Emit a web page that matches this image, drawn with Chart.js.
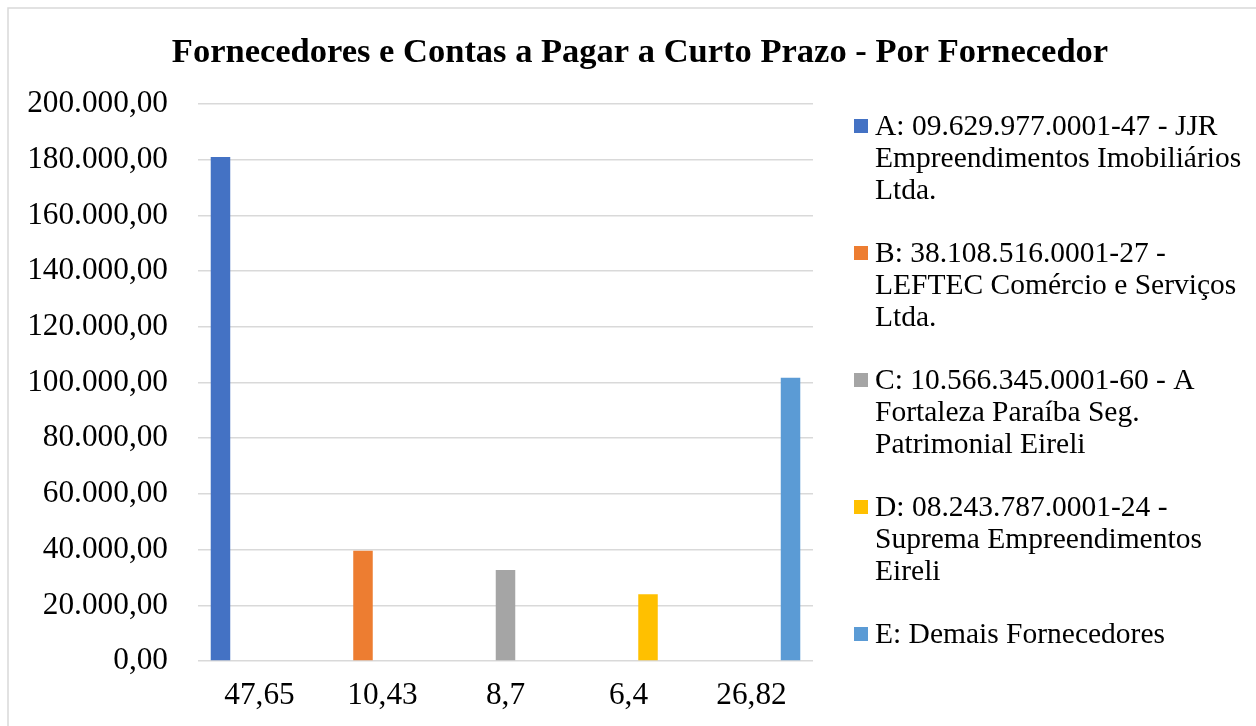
<!DOCTYPE html>
<html>
<head>
<meta charset="utf-8">
<script src="https://cdn.jsdelivr.net/npm/chart.js@4/dist/chart.umd.min.js"></script>
<style>
  html, body { margin: 0; padding: 0; background: #ffffff; }
  #wrap { position: relative; width: 1256px; height: 726px; overflow: hidden; }
</style>
</head>
<body>
<div id="wrap"><canvas id="c" width="1256" height="726"></canvas></div>
<script>
// ---- data ----
const categories = ['47,65', '10,43', '8,7', '6,4', '26,82'];
const seriesNames = [
  ['A: 09.629.977.0001-47 - JJR', 'Empreendimentos Imobiliários', 'Ltda.'],
  ['B: 38.108.516.0001-27 -', 'LEFTEC Comércio e Serviços', 'Ltda.'],
  ['C: 10.566.345.0001-60 - A', 'Fortaleza Paraíba Seg.', 'Patrimonial Eireli'],
  ['D: 08.243.787.0001-24 -', 'Suprema Empreendimentos', 'Eireli'],
  ['E: Demais Fornecedores']
];
const seriesA = [181000, null, null, null, null];
const seriesB = [null, 39600, null, null, null];
const seriesC = [null, null, 32700, null, null];
const seriesD = [null, null, null, 24000, null];
const seriesE = [null, null, null, null, 101700];
const seriesValues = [seriesA, seriesB, seriesC, seriesD, seriesE];
const seriesColors = ['#4472C4', '#ED7D31', '#A5A5A5', '#FFC000', '#5B9BD5'];
const yMin = 0, yMax = 200000, yStep = 20000;
const titleText = 'Fornecedores e Contas a Pagar a Curto Prazo - Por Fornecedor';

const FONT = "'Liberation Serif', 'Times New Roman', serif";

function fmtBR(v) {
  const neg = v < 0;
  v = Math.abs(v);
  const parts = v.toFixed(2).split('.');
  const intPart = parts[0].replace(/\B(?=(\d{3})+(?!\d))/g, '.');
  return (neg ? '-' : '') + intPart + ',' + parts[1];
}

const datasets = seriesValues.map((vals, i) => ({
  label: seriesNames[i].join(' '),
  lines: seriesNames[i],
  data: vals,
  backgroundColor: seriesColors[i],
  borderWidth: 0,
  categoryPercentage: 0.793,
  barPercentage: 1.0
}));

const decorPlugin = {
  id: 'decor',
  beforeDraw(chart) {
    const ctx = chart.ctx;
    ctx.save();
    ctx.strokeStyle = '#d9d9d9';
    ctx.lineWidth = 1.5;
    ctx.strokeRect(8, 8, 1400, 900);
    ctx.restore();
  },
  afterDraw(chart) {
    const ctx = chart.ctx;
    ctx.save();
    // title
    ctx.fillStyle = '#000000';
    ctx.font = 'bold 34.5px ' + FONT;
    ctx.textAlign = 'center';
    ctx.textBaseline = 'alphabetic';
    ctx.fillText(titleText, 640, 62);
    // legend
    ctx.font = '29.5px ' + FONT;
    ctx.textAlign = 'left';
    ctx.textBaseline = 'middle';
    const x0 = 854, sq = 14, tx = 875, y0 = 126, lineH = 32, itemH = 127;
    chart.data.datasets.forEach((ds, i) => {
      const yc = y0 + i * itemH;
      ctx.fillStyle = ds.backgroundColor;
      ctx.fillRect(x0, yc - sq / 2, sq, sq);
      ctx.fillStyle = '#000000';
      ds.lines.forEach((ln, j) => {
        ctx.fillText(ln, tx, yc + j * lineH + 1);
      });
    });
    ctx.restore();
  }
};

new Chart(document.getElementById('c'), {
  type: 'bar',
  data: { labels: categories, datasets: datasets },
  options: {
    responsive: false,
    animation: false,
    devicePixelRatio: 1,
    layout: { padding: { left: 8, right: 443, top: 104, bottom: 0 } },
    plugins: {
      legend: { display: false },
      title: { display: false },
      tooltip: { enabled: false }
    },
    scales: {
      x: {
        grid: { display: false, drawTicks: false },
        border: { display: false },
        ticks: {
          color: '#000000',
          font: { family: FONT, size: 31.3 },
          padding: 16,
          maxRotation: 0,
          autoSkip: false
        },
        afterFit(scale) { scale.height = 65; }
      },
      y: {
        min: yMin,
        max: yMax,
        grid: { color: '#d9d9d9', lineWidth: 1.5, drawTicks: false },
        border: { display: false },
        ticks: {
          stepSize: yStep,
          color: '#000000',
          font: { family: FONT, size: 31.3 },
          padding: 30,
          callback: (v) => fmtBR(v)
        },
        afterFit(scale) { scale.width = 190; }
      }
    }
  },
  plugins: [decorPlugin]
});
</script>
</body>
</html>
